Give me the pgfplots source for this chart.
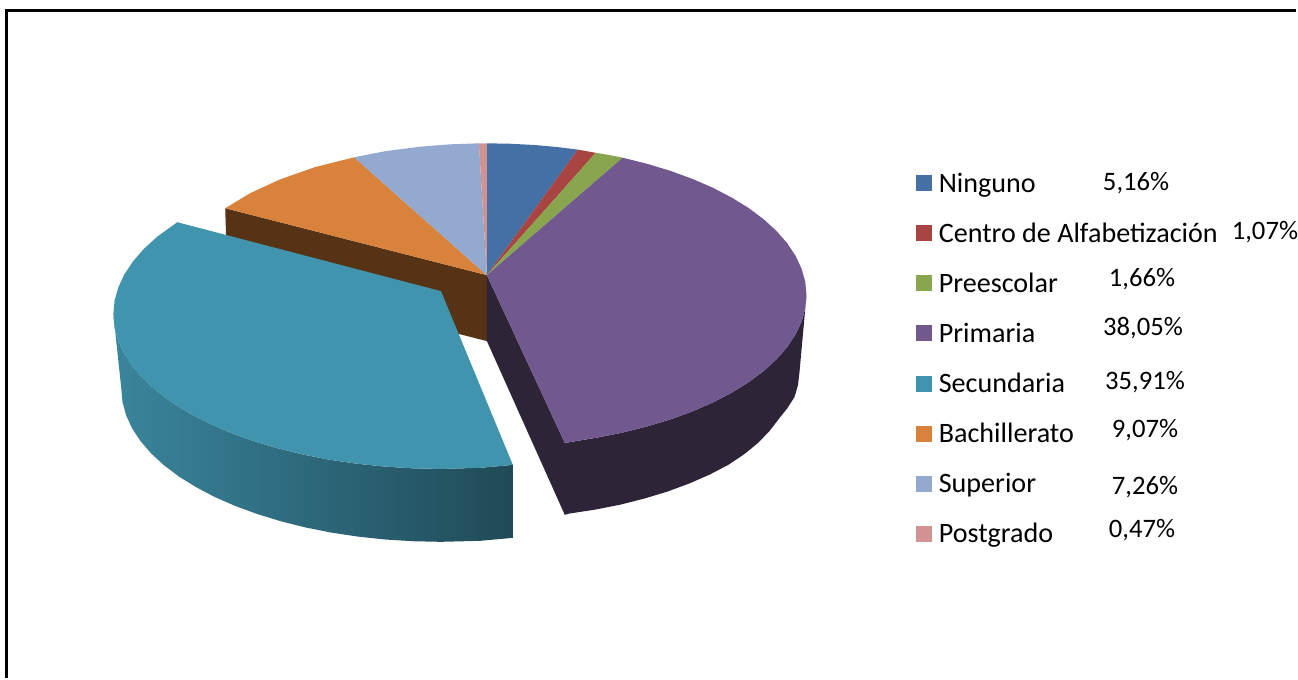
\documentclass[border=0pt]{standalone}
\usepackage{pgfplots}
\pgfplotsset{compat=1.18}
\usepackage{fontspec}
\setmainfont{Carlito}
\definecolor{cNin}{HTML}{4470A6}
\definecolor{cCen}{HTML}{A84442}
\definecolor{cPre}{HTML}{89A54E}
\definecolor{cPri}{HTML}{71588F}
\definecolor{cSec}{HTML}{4094AE}
\definecolor{cBac}{HTML}{D8823B}
\definecolor{cSup}{HTML}{93A9CF}
\definecolor{cPos}{HTML}{D19392}
\definecolor{cBro}{HTML}{573316}
\definecolor{cDrk}{HTML}{2E2438}
\begin{document}
\begin{tikzpicture}
\begin{axis}[
  name=ax,
  scale only axis, width=973.5pt, height=509.25pt,
  xmin=-0.5, xmax=1297.5, ymin=-0.5, ymax=678.5, y dir=reverse,
  hide axis, clip=false,
  legend cell align=left,
  legend style={at={(axis cs:916.5,173.3)}, anchor=north west, draw=none, fill=none,
    inner sep=0pt, outer sep=0pt, row sep=18.6pt, column sep=5.25pt,
    font=\fontsize{21.1}{25}\selectfont,
    nodes={inner sep=0pt, outer sep=0pt, text height=14pt, text depth=5pt}},
  legend image code/.code={\path[#1,draw=none] (0pt,-3.75pt) rectangle (12pt,8.25pt);},
]
% frame
\addplot[forget plot, black, line width=2.25pt, line join=miter] coordinates {(6.5,678.5) (6.5,10.5) (1297.5,10.5)};
% walls
\addplot[forget plot, fill=cBro, draw=none] coordinates {(225,208) (487,275) (487,341) (227,275)} -- cycle;
\addplot[forget plot, fill=cDrk, draw=none] coordinates {(487,275) (565,443) (565,515) (487,341)} -- cycle;
\addplot[forget plot, fill=cDrk, draw=none] coordinates {(807,295) (805.8,308.3) (802.1,321.4) (796.1,334.3) (787.7,347) (777,359.2) (764.1,371) (749.1,382.2) (732.1,392.7) (713.3,402.5) (692.7,411.4) (670.6,419.5) (647,426.6) (622.2,432.8) (596.4,437.8) (565,443) (565,515) (568.8,513.8) (595.1,509.8) (620.5,504.8) (645,498.6) (668.3,491.5) (690.1,483.4) (710.4,474.5) (729.1,464.7) (745,454) (758.5,443) (770,431) (780,418) (788,408) (795,397) (798.5,385) (800,372)} -- cycle;
\addplot[forget plot, draw=none, left color=cSec!90!black, middle color=cSec!72!black, right color=cSec!50!black] coordinates {(113,314) (114.2,327.5) (118,340.9) (124.2,354.1) (132.8,367) (143.7,379.5) (156.9,391.5) (172.3,402.9) (189.7,413.6) (209.1,423.6) (230.2,432.7) (252.9,441) (277,448.2) (302.4,454.5) (328.8,459.7) (356.1,463.7) (384,466.6) (412.4,468.4) (441,469) (480,467.9) (513,465) (513,538) (480,541) (441,542) (413.1,541.4) (385.4,539.7) (358.2,536.8) (331.6,532.8) (305.8,527.7) (281,521.5) (257.5,514.3) (235.3,506.2) (214.7,497.2) (195.9,487.3) (178.9,476.8) (163.9,465.5) (151,453.7) (140.3,441.3) (131.9,428.6) (125.9,415.6) (122.2,402.3) (121,389)} -- cycle;
% top faces
\addplot[fill=cNin, draw=none] coordinates {(487,275) (487,143) (510,143.4) (535,144.7) (557,146.7) (578,149.3)} -- cycle;
\addlegendentry{Ninguno}
\addplot[fill=cCen, draw=none] coordinates {(487,275) (578,149.3) (596,152.5)} -- cycle;
\addlegendentry{Centro de Alfabetización}
\addplot[fill=cPre, draw=none] coordinates {(487,275) (596,152.5) (610,154.8) (623,157.4)} -- cycle;
\addlegendentry{Preescolar}
\addplot[fill=cPri, draw=none] coordinates {(487,275) (623,157.4) (647,163.4) (670.6,170.5) (692.7,178.6) (713.3,187.5) (732.1,197.3) (749.1,207.8) (764.1,219) (777,230.8) (787.7,243) (796.1,255.7) (802.1,268.6) (805.8,281.7) (807,295) (805.8,308.3) (802.1,321.4) (796.1,334.3) (787.7,347) (777,359.2) (764.1,371) (749.1,382.2) (732.1,392.7) (713.3,402.5) (692.7,411.4) (670.6,419.5) (647,426.6) (622.2,432.8) (596.4,437.8) (565,443)} -- cycle;
\addlegendentry{Primaria}
\addplot[fill=cSec, draw=none] coordinates {(441,291) (177,222) (156.9,236.5) (143.7,248.5) (132.8,261) (124.2,273.9) (118,287.1) (114.2,300.5) (113,314) (114.2,327.5) (118,340.9) (124.2,354.1) (132.8,367) (143.7,379.5) (156.9,391.5) (172.3,402.9) (189.7,413.6) (209.1,423.6) (230.2,432.7) (252.9,441) (277,448.2) (302.4,454.5) (328.8,459.7) (356.1,463.7) (384,466.6) (412.4,468.4) (441,469) (480,467.9) (513,465)} -- cycle;
\addlegendentry{Secundaria}
\addplot[fill=cBac, draw=none] coordinates {(487,275) (225,208) (250,192.9) (280,179.1) (315,166.8) (354,157)} -- cycle;
\addlegendentry{Bachillerato}
\addplot[fill=cSup, draw=none] coordinates {(487,275) (354,157) (385,150.9) (420,146.4) (450,144) (479,143)} -- cycle;
\addlegendentry{Superior}
\addplot[fill=cPos, draw=none] coordinates {(487,275) (479,143) (487,143)} -- cycle;
\addlegendentry{Postgrado}
% percentage labels
\begin{scope}[every node/.style={font=\fontsize{20}{24}\selectfont, inner sep=0pt, anchor=base}]
\node at (axis cs:1137,190) {5,16\%};
\node at (axis cs:1266,239) {1,07\%};
\node at (axis cs:1143,286) {1,66\%};
\node at (axis cs:1144,335) {38,05\%};
\node at (axis cs:1146,389) {35,91\%};
\node at (axis cs:1146,438) {9,07\%};
\node at (axis cs:1146,495) {7,26\%};
\node at (axis cs:1143,538) {0,47\%};
\end{scope}
\end{axis}
\path[use as bounding box] (ax.south west) rectangle (ax.north east);
\end{tikzpicture}
\end{document}
